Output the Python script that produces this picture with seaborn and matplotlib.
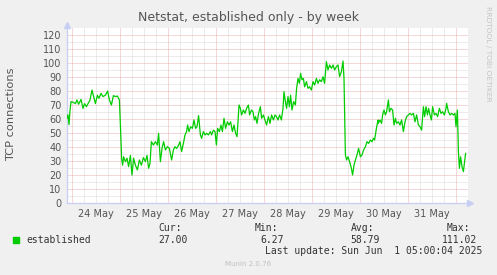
import matplotlib
matplotlib.use("Agg")
import matplotlib.pyplot as plt
import seaborn as sns
import pandas as pd
import numpy as np

# ---- data (hours since 24 May 00:00, TCP connections) ----
hours = [-2.5, -2, -1.5, -1, -0.5, 0.5, 1.7, 2.5, 3.3, 4.5, 5.5, 6.3, 7.2, 8, 9, 10, 10.8, 11.7,
         12.7, 13.5, 14.5, 15.5, 16.7, 17.8, 18.7, 19.7, 20.7, 21.7, 22.7, 23.7, 24.2, 24.8, 25.3,
         25.8, 26.7, 27.5, 28.3, 29.2, 30, 30.8, 31.7, 32.7, 33.7, 34.7, 35.7, 36.7, 37.5, 38.3,
         39, 39.7, 40.7, 41.7, 42.7, 43.3, 44.2, 45, 45.8, 46.7, 47.7, 48.7,
         49.8, 50.7, 51.5, 52.3, 53.2, 54, 54.8, 55.7, 56.5, 57.3, 57.8, 58.5, 59.3, 60.2, 61,
         61.8, 62.5, 63.3, 64.2, 64.8, 65.7, 66.5, 67.3, 68.2, 69.2, 69.8, 70.7, 71.5, 72.2, 72.8,
         73.7, 74.5, 75.2, 76, 76.8, 77.7, 78.5, 79.3, 80.2, 81, 81.8, 82.5, 83, 83.5, 84.2, 84.8,
         85.7, 86.5, 87.3, 88.2, 88.8, 89.7, 90.5, 91.2, 91.8, 92.5, 93.3, 94.2, 94.8, 95.7, 96.5,
         97.3, 98.2, 99, 99.8, 100.7, 101.5,
         102.2, 103, 103.8, 104.7, 105.5, 106, 106.7, 107.3, 108, 108.7, 109.3, 110, 110.8, 111.7,
         112.3, 113, 113.7, 114.3, 115, 115.7, 116.3, 117.2, 118, 118.8, 119.7, 120.5, 121.3,
         122.2, 123, 123.8, 124.7, 125.5, 126.3, 127.2, 128, 128.8, 129.7, 130.5, 131.3, 132.2,
         133, 133.8, 134.7, 135.5, 136, 136.7, 137.3, 138, 138.8, 139.7, 140.3, 141, 141.7, 142.5,
         143.3, 144.2, 145, 145.8, 146.7, 147.5, 148.3, 149.2, 150, 150.7, 151.3, 152.2, 153,
         153.2, 154, 154.8, 155.3, 156, 156.7, 157.3, 158.2, 158.7, 159.5, 160.3, 161, 161.7,
         162.3, 163.2, 164, 164.8, 165.7, 166.5, 167.3, 168.2, 169, 169.8, 170.7, 171.5, 172.3,
         173.2, 174, 174.8, 175.7, 176.3, 177, 177.7, 178.3, 179, 179.7, 180.3, 181.2, 182, 182.8,
         183.7, 184.5, 185.3, 186.2, 187, 187.3, 188.2, 189, 189.8, 190.7, 191.5, 192, 192.7,
         193.2, 193.7, 194.3, 195, 195.7, 196.3, 196.8]
established = [60.5, 63, 56, 66, 72.4, 72, 71, 73.6, 70.5, 74, 67.6, 71, 68.8, 71, 73.6, 80.7, 76, 71,
               77, 74.8, 78.3, 76, 77, 80, 73.6, 70, 76.7, 76, 76.4, 73.6, 55.7, 32, 27,
               33, 29.5, 32, 26, 34, 20, 32, 27, 23.6, 30.7, 27, 32.4, 29.5, 34, 24.8,
               28.3, 43.8, 41.4, 43.8, 41.4, 49.8, 29.5, 39, 43.8, 37.9, 40.2, 39,
               30.7, 37.9, 40.2, 39, 41, 43.8, 36.7, 42.6, 48.6, 51, 55.7, 51, 54.5, 53.3, 59.3,
               53.3, 54.5, 62.4, 48.6, 46.2, 51, 48.6, 49.8, 48.6, 51, 48.6, 52, 51, 41.4, 53.3,
               51, 55.7, 51, 60.5, 53.3, 58, 55.7, 58, 51, 55.7, 49.8, 47.4, 58, 70, 67.6, 62.9,
               66.4, 64, 67.6, 70, 62.9, 66.4, 65.2, 59.3, 61.7, 56.9, 64, 68.8, 60.5, 62.9, 59.3,
               55.7, 61.7, 56.9, 62.9, 59.3, 62.9,
               61.7, 59.3, 62.9, 59.3, 67.6, 79.5, 72.4, 67.6, 76, 68.8, 77, 66.4, 72.4, 70,
               81.9, 89, 85.5, 92.6, 88, 89, 83, 86.7, 81.9, 83, 80.7, 86.7, 84.3,
               89, 85.5, 88, 86.7, 90.2, 85.5, 101, 95, 98.6, 96.2, 98.6, 95, 97.4,
               98.6, 90.2, 93.8, 101.4, 89, 34.3, 30.7, 33, 29.5, 24.8, 20, 27, 30.7, 34.3,
               39, 33, 34.3, 37.9, 40.2, 43.8, 42.6, 45, 43.8, 46.2, 45, 53.3, 59.3,
               56.9, 59.3, 56.9, 62.9, 66.4, 62.9, 65.2, 73.6, 65.2, 67.6, 66.4, 55.7, 60.5,
               56.9, 58, 55.7, 59.3, 51, 58, 61.7, 62.9, 64, 62.9, 64, 58, 62.9,
               55.7, 54.5, 52.1, 68.8, 61.7, 68.8, 62.9, 67.6, 62.9, 59.3, 68.8, 62.9, 64, 61.7,
               67.6, 64, 65.2, 62.9, 67.6, 71.2, 65.2, 62.9, 64, 62.9, 64, 54.5, 66.4,
               36.7, 24.8, 33, 26, 22.4, 29.5, 35.5]

day_labels = ["24 May", "25 May", "26 May", "27 May", "28 May", "29 May", "30 May", "31 May"]
y_ticks = list(range(0, 121, 10))
series_name = "established"
stats_cur, stats_min, stats_avg, stats_max = "27.00", "6.27", "58.79", "111.02"
title = "Netstat, established only - by week"
ylabel = "TCP connections"
last_update = "Last update: Sun Jun  1 05:00:04 2025"

df = pd.DataFrame({"hours": hours, "value": established})

sns.set_theme(style="white")
plt.rcParams["font.family"] = ["DejaVu Sans"]

W, H = 497, 275
fig = plt.figure(figsize=(W / 100, H / 100), dpi=100, facecolor="#F0F0F0")
ax = fig.add_axes([67 / W, (H - 203) / H, (468 - 67) / W, (203 - 28) / H])
ax.set_facecolor("white")

xmin, xmax = -2.5, 198
ax.set_xlim(xmin, xmax)
ax.set_ylim(0, 125)

# grid (dotted)
dot = (0, (1, 1))
gkw = dict(lw=0.72, ls=dot)
for h in np.arange(0, xmax, 6):
    if h % 24 != 0:
        ax.axvline(h, color="#d8d8d8", zorder=0, **gkw)
for v in np.arange(5, 125, 10):
    ax.axhline(v, color="#d8d8d8", zorder=0, **gkw)
for h in np.arange(0, xmax, 24):
    ax.axvline(h, color="#eab0b0", zorder=0.5, **gkw)
for v in y_ticks[1:]:
    ax.axhline(v, color="#eab0b0", zorder=0.5, **gkw)

sns.lineplot(data=df, x="hours", y="value", ax=ax, color="#00CC00", linewidth=0.9,
             sort=False, estimator=None, zorder=3)

ax.set_xticks([12 + 24 * i for i in range(len(day_labels))])
ax.set_xticklabels(day_labels)
ax.set_yticks(y_ticks)
ax.set_yticklabels([str(v) for v in y_ticks])
ax.tick_params(axis="both", labelsize=7, colors="#555555", length=0)
ax.tick_params(axis="y", pad=4)
ax.tick_params(axis="x", pad=4)
ax.set_xlabel("")
ax.set_ylabel("")

for s in ["top", "right"]:
    ax.spines[s].set_visible(False)
for s in ["left", "bottom"]:
    ax.spines[s].set_color("#c8cff5")
    ax.spines[s].set_linewidth(0.9)

# axis arrows
ax.plot([0], [1.02], marker="^", ms=5, color="#c8cff5", transform=ax.transAxes, clip_on=False)
ax.plot([1.005], [0], marker=">", ms=5, color="#c8cff5", transform=ax.transAxes, clip_on=False)

fig.text(248 / W, 1 - 18 / H, title, ha="center", va="center", fontsize=9, color="#555555")
fig.text(11 / W, 1 - 114 / H, ylabel, ha="center", va="center", rotation=90, fontsize=8.2,
         color="#555555")
fig.text(488 / W, 1 - 54 / H, "RRDTOOL / TOBI OETIKER", ha="center", va="center", rotation=270,
         fontsize=5.4, color="#c4c4c4")

mono = "DejaVu Sans Mono"
tc = "#333333"
fig.patches.append(plt.Rectangle((13 / W, 1 - 243 / H), 6 / W, 6 / H, transform=fig.transFigure,
                                 color="#00CC00"))
fig.text(26 / W, 1 - 240 / H, series_name, ha="left", va="center", fontsize=7, family=mono, color=tc)
for hx, vx, head, val in [(182, 188, "Cur:", stats_cur), (278, 284, "Min:", stats_min),
                          (374, 380, "Avg:", stats_avg), (470, 477, "Max:", stats_max)]:
    fig.text(hx / W, 1 - 228 / H, head, ha="right", va="center", fontsize=7, family=mono, color=tc)
    fig.text(vx / W, 1 - 240 / H, val, ha="right", va="center", fontsize=7, family=mono, color=tc)
fig.text(482 / W, 1 - 251 / H, last_update, ha="right", va="center", fontsize=7, family=mono, color=tc)
fig.text(248 / W, 1 - 264 / H, "Munin 2.0.76", ha="center", va="center", fontsize=5, color="#c0c0c0")

fig.savefig("out.png", dpi=100, facecolor="#F0F0F0")
